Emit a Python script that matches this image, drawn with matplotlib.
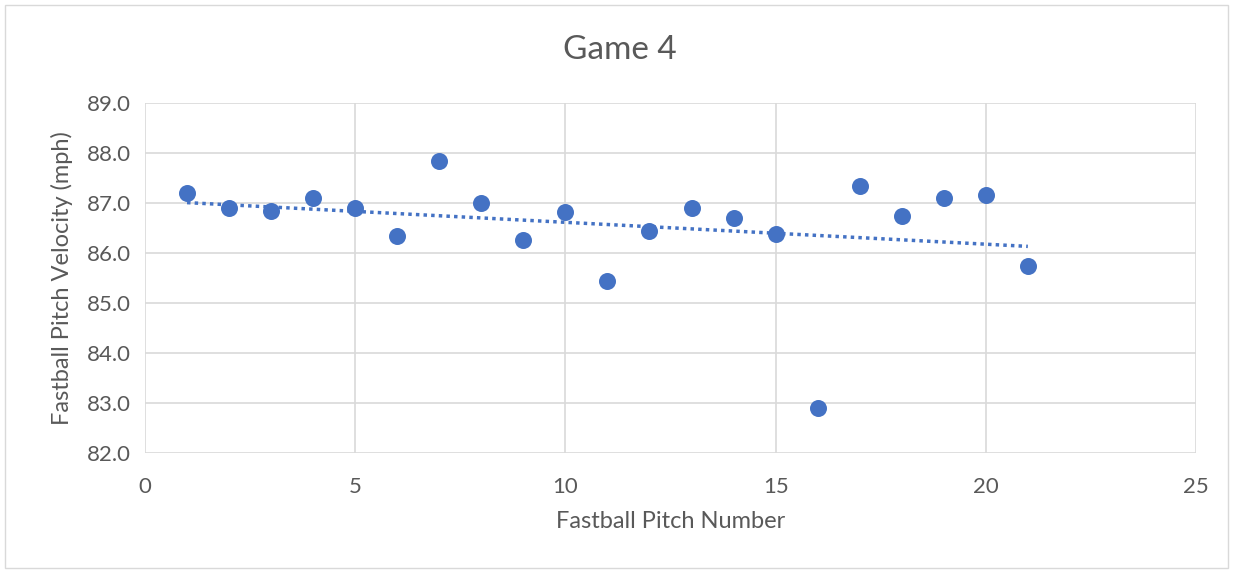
import numpy as np
import matplotlib.pyplot as plt
from matplotlib.patches import Rectangle

pitch_number = [1, 2, 3, 4, 5, 6, 7, 8, 9, 10, 11,
                12, 13, 14, 15, 16, 17, 18, 19, 20, 21]
velocity = [87.19, 86.91, 86.85, 87.10, 86.90, 86.35, 87.84, 87.00, 86.26, 86.81, 85.44,
            86.43, 86.89, 86.71, 86.37, 82.89, 87.33, 86.73, 87.09, 87.15, 85.73]

x_ticks = [0, 5, 10, 15, 20, 25]
y_ticks = [82.0, 83.0, 84.0, 85.0, 86.0, 87.0, 88.0, 89.0]

blue = "#4472C4"
text_gray = "#595959"
grid_gray = "#D9D9D9"

plt.rcParams['font.family'] = ['Lato', 'DejaVu Sans']

fig = plt.figure(figsize=(12.33, 5.73), dpi=100)
ax = fig.add_axes([145 / 1233, 1 - 453 / 573, (1196 - 145) / 1233, (453 - 103) / 573])

# outer chart border
fig.patches.append(Rectangle((5 / 1233, 5 / 573), 1223 / 1233, 563 / 573,
                             transform=fig.transFigure, fill=False,
                             edgecolor="#D9D9D9", linewidth=1))

# linear trendline
slope, intercept = np.polyfit(pitch_number, velocity, 1)
xs = np.array([pitch_number[0], pitch_number[-1]])
ax.plot(xs, slope * xs + intercept, linestyle=(0, (1, 1.2)), color=blue,
        linewidth=2.5, zorder=2)

ax.scatter(pitch_number, velocity, s=150, color=blue, zorder=3, linewidths=0)

ax.set_xlim(0, 25)
ax.set_ylim(82, 89)
ax.set_xticks(x_ticks)
ax.set_yticks(y_ticks)
ax.set_yticklabels([f"{v:.1f}" for v in y_ticks])
ax.grid(True, color=grid_gray, linewidth=1.2)
ax.set_axisbelow(True)
for s in ax.spines.values():
    s.set_visible(False)
ax.tick_params(length=0, labelsize=16, colors=text_gray)
ax.tick_params(axis="x", pad=17)
ax.tick_params(axis="y", pad=10)

ax.set_xlabel("Fastball Pitch Number", fontsize=17, color=text_gray, labelpad=10)
ax.set_ylabel("Fastball Pitch Velocity (mph)", fontsize=17, color=text_gray, labelpad=10)
fig.text(620 / 1233, 1 - 50 / 573, "Game 4", fontsize=24, color=text_gray,
         ha="center", va="center")

fig.savefig("out.png", dpi=100)
